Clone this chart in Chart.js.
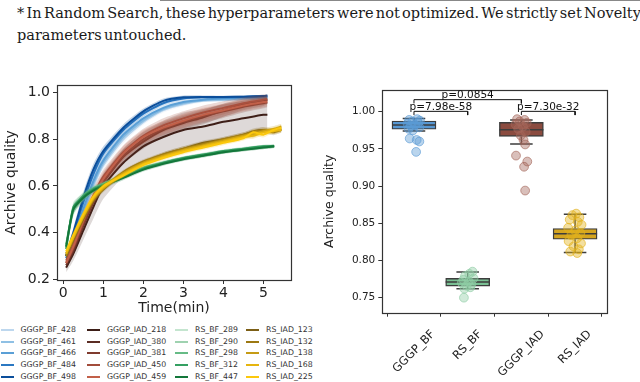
<!DOCTYPE html>
<html>
<head>
<meta charset="utf-8">
<script src="https://cdn.jsdelivr.net/npm/chart.js@4/dist/chart.umd.min.js"></script>
<style>
html, body { margin: 0; padding: 0; background: #fff; }
body { width: 640px; height: 382px; position: relative; overflow: hidden; }
#rule { position: absolute; left: 160px; top: 0; width: 480px; height: 1px; background: #888; }
#note { position: absolute; left: 17px; top: 3px; width: 623px; font-family: "DejaVu Serif", serif; font-size: 14.5px; line-height: 21.5px; word-spacing: -2.3px; color: #1a1a1a; white-space: nowrap; overflow: hidden; }
#lineWrap { position: absolute; left: 0; top: 60px; }
#boxWrap { position: absolute; left: 320px; top: 60px; }
#legend { position: absolute; left: 0; top: 0; font-family: "DejaVu Sans", sans-serif; font-size: 7.8px; color: #333; }
.lh { position: absolute; width: 13px; height: 2px; }
.lt { position: absolute; line-height: 10px; white-space: nowrap; }
</style>
</head>
<body>
<div id="rule"></div>
<div id="note">* In Random Search, these hyperparameters were not optimized. We strictly set Novelty Search's<br>parameters untouched.</div>
<div id="lineWrap"><canvas id="lineChart" width="300" height="262"></canvas></div>
<div id="boxWrap"><canvas id="boxChart" width="320" height="322"></canvas></div>
<div id="legend"></div>
<script>
// ---- left panel: archive quality over time (minutes) ----
const timeGGGP  = [0.07, 0.25, 0.5, 0.75, 1.0, 1.5, 2.0, 2.5, 3.0, 3.5, 4.0, 4.5, 5.0, 5.1];
const timeRSBF  = [0.07, 0.25, 0.5, 0.75, 1.0, 1.5, 2.0, 2.5, 3.0, 3.5, 4.0, 4.5, 5.0, 5.27];
const timeRSIAD = [0.07, 0.25, 0.5, 0.75, 1.0, 1.5, 2.0, 2.5, 3.0, 3.5, 4.0, 4.5, 4.75, 5.0, 5.25, 5.45];

const gggpBF428 = [0.30, 0.36, 0.48, 0.60, 0.69, 0.80, 0.875, 0.925, 0.950, 0.965, 0.968, 0.972, 0.975, 0.976];
const gggpBF461 = [0.31, 0.38, 0.49, 0.61, 0.70, 0.81, 0.880, 0.930, 0.955, 0.968, 0.970, 0.975, 0.977, 0.978];
const gggpBF466 = [0.30, 0.37, 0.50, 0.62, 0.71, 0.82, 0.890, 0.935, 0.960, 0.970, 0.975, 0.977, 0.980, 0.980];
const gggpBF484 = [0.29, 0.39, 0.53, 0.65, 0.74, 0.84, 0.910, 0.955, 0.975, 0.980, 0.980, 0.982, 0.984, 0.985];
const gggpBF498 = [0.30, 0.40, 0.55, 0.67, 0.75, 0.85, 0.920, 0.965, 0.980, 0.982, 0.982, 0.983, 0.986, 0.988];

const gggpIAD218 = [0.25, 0.31, 0.41, 0.51, 0.60, 0.70, 0.770, 0.810, 0.840, 0.855, 0.875, 0.890, 0.905, 0.905];
const gggpIAD380 = [0.26, 0.32, 0.43, 0.53, 0.615, 0.725, 0.790, 0.840, 0.870, 0.895, 0.925, 0.950, 0.965, 0.970];
const gggpIAD381 = [0.27, 0.33, 0.44, 0.54, 0.62, 0.73, 0.800, 0.845, 0.875, 0.900, 0.920, 0.940, 0.955, 0.958];
const gggpIAD450 = [0.28, 0.35, 0.46, 0.56, 0.64, 0.745, 0.815, 0.860, 0.890, 0.915, 0.935, 0.955, 0.970, 0.972];
const gggpIAD459 = [0.27, 0.34, 0.45, 0.55, 0.63, 0.74, 0.810, 0.850, 0.880, 0.905, 0.925, 0.945, 0.960, 0.962];

const rsBF289 = [0.33, 0.50, 0.55, 0.585, 0.605, 0.638, 0.675, 0.700, 0.720, 0.733, 0.748, 0.760, 0.770, 0.771];
const rsBF290 = [0.34, 0.49, 0.55, 0.58, 0.60, 0.640, 0.672, 0.697, 0.716, 0.730, 0.744, 0.756, 0.765, 0.768];
const rsBF298 = [0.35, 0.50, 0.56, 0.59, 0.61, 0.645, 0.680, 0.700, 0.718, 0.732, 0.747, 0.758, 0.768, 0.770];
const rsBF312 = [0.33, 0.51, 0.555, 0.585, 0.605, 0.640, 0.675, 0.700, 0.720, 0.735, 0.750, 0.760, 0.770, 0.772];
const rsBF447 = [0.34, 0.50, 0.55, 0.58, 0.60, 0.635, 0.670, 0.695, 0.715, 0.730, 0.745, 0.755, 0.765, 0.770];

const rsIAD123 = [0.30, 0.37, 0.46, 0.54, 0.585, 0.655, 0.700, 0.735, 0.760, 0.785, 0.800, 0.820, 0.835, 0.840, 0.830, 0.840];
const rsIAD132 = [0.30, 0.37, 0.46, 0.54, 0.59, 0.660, 0.705, 0.735, 0.760, 0.780, 0.800, 0.820, 0.830, 0.840, 0.835, 0.845];
const rsIAD138 = [0.31, 0.38, 0.47, 0.545, 0.59, 0.655, 0.700, 0.730, 0.755, 0.775, 0.795, 0.815, 0.820, 0.835, 0.845, 0.855];
const rsIAD168 = [0.31, 0.38, 0.47, 0.55, 0.595, 0.650, 0.695, 0.725, 0.750, 0.770, 0.790, 0.810, 0.815, 0.830, 0.835, 0.840];
const rsIAD225 = [0.32, 0.39, 0.48, 0.555, 0.60, 0.645, 0.690, 0.720, 0.745, 0.765, 0.785, 0.805, 0.830, 0.820, 0.840, 0.850];

// half width of the shaded band around each run
const sdBF     = [0.015, 0.02, 0.025, 0.025, 0.02, 0.015, 0.012, 0.01, 0.008, 0.006, 0.005, 0.005, 0.005, 0.005];
const sdIAD    = [0.015, 0.02, 0.025, 0.03, 0.03, 0.03, 0.03, 0.03, 0.03, 0.03, 0.028, 0.025, 0.022, 0.02];
const sdIAD218 = [0.02, 0.03, 0.04, 0.05, 0.055, 0.06, 0.065, 0.07, 0.075, 0.075, 0.075, 0.075, 0.075, 0.075];
const sdRSBF   = [0.02, 0.02, 0.015, 0.012, 0.01, 0.01, 0.008, 0.008, 0.008, 0.008, 0.007, 0.007, 0.007, 0.007];
const sdRSIAD  = [0.015, 0.015, 0.015, 0.015, 0.012, 0.01, 0.01, 0.01, 0.01, 0.01, 0.01, 0.01, 0.012, 0.012, 0.012, 0.012];

const runNames = ['GGGP_BF_428', 'GGGP_BF_461', 'GGGP_BF_466', 'GGGP_BF_484', 'GGGP_BF_498',
                  'GGGP_IAD_218', 'GGGP_IAD_380', 'GGGP_IAD_381', 'GGGP_IAD_450', 'GGGP_IAD_459',
                  'RS_BF_289', 'RS_BF_290', 'RS_BF_298', 'RS_BF_312', 'RS_BF_447',
                  'RS_IAD_123', 'RS_IAD_132', 'RS_IAD_138', 'RS_IAD_168', 'RS_IAD_225'];
const runValues = [gggpBF428, gggpBF461, gggpBF466, gggpBF484, gggpBF498,
                   gggpIAD218, gggpIAD380, gggpIAD381, gggpIAD450, gggpIAD459,
                   rsBF289, rsBF290, rsBF298, rsBF312, rsBF447,
                   rsIAD123, rsIAD132, rsIAD138, rsIAD168, rsIAD225];
const runTimes = runNames.map(n => n.startsWith('GGGP') ? timeGGGP : (n.startsWith('RS_BF') ? timeRSBF : timeRSIAD));
const runSpread = runNames.map(n => n === 'GGGP_IAD_218' ? sdIAD218 :
  n.startsWith('GGGP_BF') ? sdBF : n.startsWith('GGGP_IAD') ? sdIAD : n.startsWith('RS_BF') ? sdRSBF : sdRSIAD);

const xTicksLine = [0, 1, 2, 3, 4, 5];
const yTicksLine = [0.2, 0.4, 0.6, 0.8, 1.0];

// ---- right panel: final archive quality per method ----
const boxCats = ['GGGP_BF', 'RS_BF', 'GGGP_IAD', 'RS_IAD'];
const boxLow  = [0.974, 0.762, 0.9566, 0.8106];
const boxQ1   = [0.9765, 0.7656, 0.9668, 0.8285];
const boxMed  = [0.982, 0.771, 0.9758, 0.836];
const boxQ3   = [0.9875, 0.776, 0.9857, 0.843];
const boxHigh = [0.991, 0.7845, 0.989, 0.8622];

const ptsGGGPBF  = [0.990, 0.989, 0.988, 0.987, 0.985, 0.984, 0.982, 0.981, 0.979, 0.977, 0.975, 0.964, 0.962, 0.960, 0.946];
const jitGGGPBF  = [0.06, -0.09, 0.11, -0.03, 0.08, -0.12, 0.02, -0.06, 0.10, -0.10, -0.02, -0.08, 0.05, 0.10, 0.04];
const ptsRSBF    = [0.785, 0.782, 0.779, 0.776, 0.774, 0.772, 0.770, 0.768, 0.766, 0.764, 0.762, 0.750];
const jitRSBF    = [0.09, 0.03, -0.05, 0.11, -0.08, 0.02, -0.11, 0.07, -0.02, 0.05, -0.06, -0.07];
const ptsGGGPIAD = [0.990, 0.989, 0.987, 0.985, 0.983, 0.980, 0.977, 0.973, 0.968, 0.962, 0.956, 0.941, 0.933, 0.926, 0.894];
const jitGGGPIAD = [-0.08, 0.06, -0.03, 0.10, -0.11, 0.03, -0.06, 0.08, -0.01, 0.04, 0.07, -0.10, 0.11, 0.05, 0.07];
const ptsRSIAD   = [0.863, 0.861, 0.858, 0.855, 0.852, 0.848, 0.844, 0.840, 0.837, 0.834, 0.830, 0.826, 0.823, 0.819, 0.815, 0.812, 0.810];
const jitRSIAD   = [0.02, -0.05, 0.08, -0.10, 0.05, 0.12, -0.13, 0.00, 0.10, -0.07, 0.04, -0.12, 0.11, -0.03, 0.07, -0.09, 0.04];

const sigPairs  = [[0, 1], [0, 2], [2, 3]];
const sigLevels = [1.0005, 1.0162, 1.0005];
const sigLabels = ['p=7.98e-58', 'p=0.0854', 'p=7.30e-32'];
const yTicksBox = [0.75, 0.80, 0.85, 0.90, 0.95, 1.00];

// ---- styles ----
const runColors = ['#bdd7ee', '#8fc0e4', '#5a9fd6', '#2b78c2', '#0b4e9b',
                   '#3d1e17', '#5b2d24', '#7f3b2e', '#a24c3b', '#c26049',
                   '#c4e5cf', '#9fd2b0', '#66bb86', '#35a062', '#13773a',
                   '#7c5f16', '#9c7812', '#c59b15', '#e6b50f', '#fcc80c'];
const boxFill = ['#5797d2', '#79bf93', '#8b4b3f', '#d5a520'];
const pointFill = ['#5b9bd5', '#8fcca5', '#a4675a', '#e2b21c'];
const edge = '#3d3d3d';
const axisColor = '#333';
const textColor = '#222';

function alpha(hex, a) {
  const n = parseInt(hex.slice(1), 16);
  return `rgba(${n >> 16},${(n >> 8) & 255},${n & 255},${a})`;
}

const framePlugin = {
  id: 'frame',
  afterDraw(chart) {
    const { ctx, chartArea: a } = chart;
    ctx.save();
    ctx.strokeStyle = axisColor;
    ctx.lineWidth = 1.2;
    ctx.strokeRect(Math.round(a.left) + 0.5, Math.round(a.top) + 0.5, Math.round(a.right - a.left), Math.round(a.bottom - a.top));
    ctx.restore();
  }
};

// ---- line chart ----
const lineDatasets = [];
runNames.forEach((name, i) => {
  const t = runTimes[i], y = runValues[i], sd = runSpread[i];
  const order = 3 * (runNames.length - i);
  const bandAlpha = name === 'GGGP_IAD_218' ? 0.17 : 0.22;
  lineDatasets.push({
    data: t.map((x, k) => ({ x, y: y[k] + sd[k] })),
    borderWidth: 0, pointRadius: 0, fill: false, tension: 0.2, order: order + 2
  });
  lineDatasets.push({
    data: t.map((x, k) => ({ x, y: y[k] - sd[k] })),
    borderWidth: 0, pointRadius: 0, fill: '-1', tension: 0.2, order: order + 1,
    backgroundColor: alpha(runColors[i], bandAlpha)
  });
  lineDatasets.push({
    label: name,
    data: t.map((x, k) => ({ x, y: y[k] })),
    borderColor: runColors[i], borderWidth: 2, pointRadius: 0, fill: false, tension: 0.2, order: order
  });
});

new Chart(document.getElementById('lineChart'), {
  type: 'line',
  data: { datasets: lineDatasets },
  options: {
    responsive: false,
    animation: false,
    layout: { padding: { top: 25, right: 9, left: 0, bottom: 0 } },
    plugins: { legend: { display: false }, tooltip: { enabled: false } },
    scales: {
      x: {
        type: 'linear', min: -0.158, max: 5.69,
        afterBuildTicks: s => { s.ticks = xTicksLine.map(v => ({ value: v })); },
        afterFit: s => { s.height = 42; },
        border: { display: false },
        grid: { drawOnChartArea: false, drawTicks: true, tickLength: 4, tickColor: axisColor },
        ticks: { color: textColor, font: { family: 'DejaVu Sans', size: 14 }, padding: 1, maxRotation: 0 },
        title: { display: true, text: 'Time(min)', color: textColor, font: { family: 'DejaVu Sans', size: 14 }, padding: { top: 0, bottom: 5 } }
      },
      y: {
        min: 0.197, max: 1.033,
        afterBuildTicks: s => { s.ticks = yTicksLine.map(v => ({ value: v })); },
        afterFit: s => { s.width = 57; },
        border: { display: false },
        grid: { drawOnChartArea: false, drawTicks: true, tickLength: 4, tickColor: axisColor },
        ticks: { color: textColor, font: { family: 'DejaVu Sans', size: 14 }, padding: 3, callback: v => v.toFixed(1) },
        title: { display: true, text: 'Archive quality', color: textColor, font: { family: 'DejaVu Sans', size: 14 }, padding: { top: 3, bottom: 0 } }
      }
    }
  },
  plugins: [framePlugin]
});

// ---- legend (4 columns, column-major) ----
const legendTextX = [20.5, 107, 195, 266];
const legendRowY = 330.3, legendRowStep = 11.55;
const legendEl = document.getElementById('legend');
runNames.forEach((name, i) => {
  const col = Math.floor(i / 5), row = i % 5;
  const cy = legendRowY + row * legendRowStep;
  const h = document.createElement('div');
  h.className = 'lh';
  h.style.left = (legendTextX[col] - 20) + 'px';
  h.style.top = (cy - 1) + 'px';
  h.style.background = runColors[i];
  const t = document.createElement('div');
  t.className = 'lt';
  t.style.left = legendTextX[col] + 'px';
  t.style.top = (cy - 5) + 'px';
  t.textContent = name;
  legendEl.appendChild(h);
  legendEl.appendChild(t);
});

// ---- box chart ----
const groupPts = [ptsGGGPBF, ptsRSBF, ptsGGGPIAD, ptsRSIAD];
const groupJit = [jitGGGPBF, jitRSBF, jitGGGPIAD, jitRSIAD];

const whiskerData = [], capData = [], medianData = [], bracketData = [];
boxCats.forEach((c, i) => {
  whiskerData.push({ x: i, y: boxLow[i] }, { x: i, y: boxQ1[i] }, { x: i, y: null },
                   { x: i, y: boxQ3[i] }, { x: i, y: boxHigh[i] }, { x: i, y: null });
  capData.push({ x: i - 0.21, y: boxLow[i] }, { x: i + 0.21, y: boxLow[i] }, { x: i, y: null },
               { x: i - 0.21, y: boxHigh[i] }, { x: i + 0.21, y: boxHigh[i] }, { x: i, y: null });
  medianData.push({ x: i - 0.41, y: boxMed[i] }, { x: i + 0.41, y: boxMed[i] }, { x: i, y: null });
});
sigPairs.forEach(([a, b], k) => {
  const lv = sigLevels[k];
  bracketData.push({ x: a, y: lv - 0.005 }, { x: a, y: lv }, { x: b, y: lv }, { x: b, y: lv - 0.005 }, { x: b, y: null });
});

const pointDatasets = boxCats.map((c, i) => ({
  type: 'scatter',
  data: groupPts[i].map((y, k) => ({ x: i + groupJit[i][k], y })),
  backgroundColor: alpha(pointFill[i], 0.42),
  borderColor: alpha(pointFill[i], 0.8),
  borderWidth: 0.8, pointRadius: 4.4, order: 1
}));

const sigTextPlugin = {
  id: 'sigText',
  afterDraw(chart) {
    const { ctx, scales: { x, y } } = chart;
    ctx.save();
    ctx.fillStyle = '#111';
    ctx.font = '10.5px "DejaVu Sans"';
    ctx.textAlign = 'center';
    ctx.textBaseline = 'alphabetic';
    sigPairs.forEach(([a, b], k) => {
      ctx.fillText(sigLabels[k], x.getPixelForValue((a + b) / 2), y.getPixelForValue(sigLevels[k]) - 1.6);
    });
    // rotated category labels, centred under each tick
    ctx.fillStyle = textColor;
    ctx.font = '11.6px "DejaVu Sans"';
    ctx.textBaseline = 'middle';
    boxCats.forEach((c, i) => {
      const px = x.getPixelForValue(i);
      const w = ctx.measureText(c).width;
      const half = (w + 13.5) * Math.SQRT1_2 / 2;
      ctx.save();
      ctx.translate(px, x.top + 15 + half);
      ctx.rotate(-Math.PI / 4);
      ctx.fillText(c, 0, 0);
      ctx.restore();
    });
    ctx.restore();
  }
};

new Chart(document.getElementById('boxChart'), {
  type: 'scatter',
  data: {
    datasets: [
      {
        type: 'bar',
        data: boxCats.map((c, i) => ({ x: i, y: [boxQ1[i], boxQ3[i]] })),
        backgroundColor: boxFill, borderColor: edge, borderWidth: 1.4, borderSkipped: false,
        barThickness: 44, order: 4
      },
      { type: 'line', data: whiskerData, borderColor: edge, borderWidth: 1.5, pointRadius: 0, spanGaps: false, order: 3 },
      { type: 'line', data: capData, borderColor: edge, borderWidth: 1.5, pointRadius: 0, spanGaps: false, order: 3 },
      { type: 'line', data: medianData, borderColor: edge, borderWidth: 1.5, pointRadius: 0, spanGaps: false, order: 2 },
      ...pointDatasets,
      { type: 'line', data: bracketData, borderColor: '#111', borderWidth: 1, pointRadius: 0, spanGaps: false, order: 0 }
    ]
  },
  options: {
    responsive: false,
    animation: false,
    layout: { padding: { top: 30, right: 32.7, left: 0, bottom: 0 } },
    plugins: { legend: { display: false }, tooltip: { enabled: false } },
    scales: {
      x: {
        type: 'linear', min: -0.59, max: 3.6, offset: false,
        afterBuildTicks: s => { s.ticks = boxCats.map((c, i) => ({ value: i })); },
        afterFit: s => { s.height = 69.3; },
        border: { display: false },
        grid: { drawOnChartArea: false, drawTicks: true, tickLength: 4, tickColor: axisColor },
        ticks: { display: false }
      },
      y: {
        type: 'linear', min: 0.7298, max: 1.0292,
        afterBuildTicks: s => { s.ticks = yTicksBox.map(v => ({ value: v })); },
        afterFit: s => { s.width = 62.3; },
        border: { display: false },
        grid: { drawOnChartArea: false, drawTicks: true, tickLength: 4, tickColor: axisColor },
        ticks: { color: textColor, font: { family: 'DejaVu Sans', size: 10.5 }, padding: 3, callback: v => v.toFixed(2) },
        title: { display: true, text: 'Archive quality', color: textColor, font: { family: 'DejaVu Sans', size: 12.5 }, padding: { top: 2.5, bottom: 0 } }
      }
    }
  },
  plugins: [framePlugin, sigTextPlugin]
});
</script>
</body>
</html>
